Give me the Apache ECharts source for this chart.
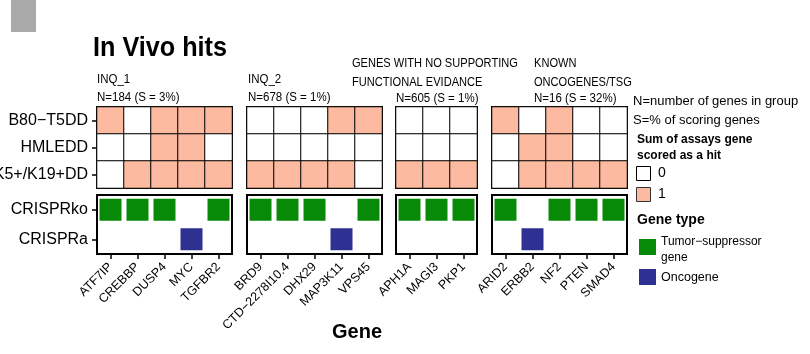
<!DOCTYPE html>
<html>
<head>
<meta charset="utf-8">
<script src="https://cdn.jsdelivr.net/npm/echarts@6/dist/echarts.min.js"></script>
<style>
html, body { margin: 0; padding: 0; background: #fff; }
#chart { width: 810px; height: 354px; }
</style>
</head>
<body>
<div id="chart"></div>
<script>
var FONT = '"Liberation Sans", Arial, Helvetica, sans-serif';

// cell lines (heatmap rows) and assays (gene type rows)
var cellLines = ['B80−T5DD', 'HMLEDD', 'K5+/K19+DD'];
var assays = ['CRISPRko', 'CRISPRa'];

// genes per group
var genes1 = ['ATF7IP', 'CREBBP', 'DUSP4', 'MYC', 'TGFBR2'];
var genes2 = ['BRD9', 'CTD−2278I10.4', 'DHX29', 'MAP3K11', 'VPS45'];
var genes3 = ['APH1A', 'MAGI3', 'PKP1'];
var genes4 = ['ARID2', 'ERBB2', 'NF2', 'PTEN', 'SMAD4'];

// hits, one row per cell line
var hits1 = [[1, 0, 1, 1, 1], [0, 0, 1, 1, 0], [0, 1, 1, 1, 1]];
var hits2 = [[0, 0, 0, 1, 1], [0, 0, 0, 0, 0], [1, 1, 1, 1, 0]];
var hits3 = [[0, 0, 0], [0, 0, 0], [1, 1, 1]];
var hits4 = [[1, 0, 1, 0, 0], [0, 1, 1, 0, 0], [0, 1, 1, 1, 1]];

// gene type: T = tumor-suppressor (CRISPRko), O = oncogene (CRISPRa)
var type1 = ['T', 'T', 'T', 'O', 'T'];
var type2 = ['T', 'T', 'T', 'O', 'T'];
var type3 = ['T', 'T', 'T'];
var type4 = ['T', 'O', 'T', 'T', 'T'];

var SALMON = '#FCBBA1';
var GREEN = '#078A07';
var BLUE = '#2E3192';

var groups = [
    {genes: genes1, hits: hits1, type: type1, left: 97},
    {genes: genes2, hits: hits2, type: type2, left: 247},
    {genes: genes3, hits: hits3, type: type3, left: 396},
    {genes: genes4, hits: hits4, type: type4, left: 492}
];
var CELL = 27;

var grids = [], xAxes = [], yAxes = [], series = [];

groups.forEach(function(g, i){
    var w = g.genes.length * CELL;
    var showY = i == 0;
    // heatmap grid
    grids.push({left: g.left, top: 107, width: w, height: 81, outerBoundsMode: 'none', containLabel: false,
        show: true, borderColor: '#000', borderWidth: 2, backgroundColor: '#fff'});
    // gene type grid
    grids.push({left: g.left, top: 195, width: w, height: 59, outerBoundsMode: 'none', containLabel: false,
        show: true, borderColor: '#000', borderWidth: 2, backgroundColor: '#fff'});

    xAxes.push({gridIndex: i * 2, type: 'category', data: g.genes,
        axisLine: {show: false}, axisTick: {show: false}, axisLabel: {show: false}, splitLine: {show: false}});
    xAxes.push({gridIndex: i * 2 + 1, type: 'category', data: g.genes,
        axisLine: {show: false},
        axisTick: {show: true, alignWithLabel: true, length: 5, lineStyle: {color: '#000', width: 1.5}},
        axisLabel: {show: true, rotate: 45, interval: 0, margin: 11, color: '#000', fontSize: 12.5, fontFamily: FONT},
        splitLine: {show: false}});

    yAxes.push({gridIndex: i * 2, type: 'category', data: cellLines, inverse: true,
        axisLine: {show: false},
        axisTick: {show: showY, alignWithLabel: true, length: 5, lineStyle: {color: '#000', width: 1.5}},
        axisLabel: {show: showY, margin: 9, color: '#000', fontSize: 16, fontFamily: FONT},
        splitLine: {show: false}});
    yAxes.push({gridIndex: i * 2 + 1, type: 'category', data: assays, inverse: true,
        axisLine: {show: false},
        axisTick: {show: showY, alignWithLabel: true, length: 5, lineStyle: {color: '#000', width: 1.5}},
        axisLabel: {show: showY, margin: 9, color: '#000', fontSize: 16, fontFamily: FONT},
        splitLine: {show: false}});

    var heat = [];
    g.hits.forEach(function(row, r){
        row.forEach(function(v, c){ heat.push([c, r, v]); });
    });
    series.push({type: 'heatmap', xAxisIndex: i * 2, yAxisIndex: i * 2, data: heat,
        itemStyle: {borderColor: '#000', borderWidth: 1}, emphasis: {disabled: true}});

    var pts = g.type.map(function(t, c){
        return {value: [c, t == 'T' ? 0 : 1], itemStyle: {color: t == 'T' ? GREEN : BLUE, opacity: 1}};
    });
    series.push({type: 'scatter', xAxisIndex: i * 2 + 1, yAxisIndex: i * 2 + 1, data: pts,
        symbol: 'rect', symbolSize: 22, itemStyle: {opacity: 1}, emphasis: {disabled: true}});
});

function txt(text, x, y, size, bold, opts){
    opts = opts || {};
    return {type: 'text', x: x, y: y, scaleX: opts.sx || 1, style: {
        text: text, fill: '#000', font: (bold ? 'bold ' : '') + size + 'px ' + FONT,
        textAlign: opts.align || 'left', textVerticalAlign: 'middle'}};
}

var graphics = [
    {type: 'rect', shape: {x: 11, y: 0, width: 25, height: 32}, style: {fill: '#aaaaaa'}},
    txt('In Vivo hits', 93, 48, 28, true, {sx: 0.9}),
    txt('INQ_1', 97, 80, 12.5, false, {sx: 0.92}),
    txt('N=184 (S = 3%)', 97, 98, 12.5, false, {sx: 0.92}),
    txt('INQ_2', 248, 80, 12.5, false, {sx: 0.92}),
    txt('N=678 (S = 1%)', 248, 98, 12.5, false, {sx: 0.92}),
    txt('GENES WITH NO SUPPORTING', 352, 63, 13.5, false, {sx: 0.82}),
    txt('FUNCTIONAL EVIDANCE', 352, 82, 13.5, false, {sx: 0.82}),
    txt('N=605 (S = 1%)', 396, 99, 12.5, false, {sx: 0.92}),
    txt('KNOWN', 534, 63, 13.5, false, {sx: 0.82}),
    txt('ONCOGENES/TSG', 534, 82, 13.5, false, {sx: 0.82}),
    txt('N=16 (S = 32%)', 534, 99, 12.5, false, {sx: 0.92}),
    txt('N=number of genes in group', 633, 101, 13, false),
    txt('S=% of scoring genes', 633, 120, 13, false),
    txt('Sum of assays gene', 637, 140, 12, true),
    txt('scored as a hit', 637, 156, 12, true),
    {type: 'rect', shape: {x: 636.5, y: 166.5, width: 14, height: 14}, style: {fill: '#fff', stroke: '#000', lineWidth: 1}},
    txt('0', 658, 173, 14, false),
    {type: 'rect', shape: {x: 636.5, y: 187.5, width: 14, height: 14}, style: {fill: SALMON, stroke: '#333', lineWidth: 1}},
    txt('1', 658, 194, 14, false),
    txt('Gene type', 637, 220, 14, true),
    {type: 'rect', shape: {x: 639, y: 239, width: 17, height: 16}, style: {fill: GREEN}},
    txt('Tumor−suppressor', 661, 242, 12, false),
    txt('gene', 661, 258, 12, false),
    {type: 'rect', shape: {x: 639, y: 269, width: 17, height: 16}, style: {fill: BLUE}},
    txt('Oncogene', 661, 278, 12.5, false),
    txt('Gene', 357, 332, 20, true, {align: 'center'})
];

var chart = echarts.init(document.getElementById('chart'));
chart.setOption({
    animation: false,
    backgroundColor: '#fff',
    grid: grids,
    xAxis: xAxes,
    yAxis: yAxes,
    visualMap: {type: 'piecewise', show: false, seriesIndex: [0, 2, 4, 6], dimension: 2,
        pieces: [{value: 0, color: '#ffffff'}, {value: 1, color: SALMON}]},
    series: series,
    graphic: graphics
});
</script>
</body>
</html>
